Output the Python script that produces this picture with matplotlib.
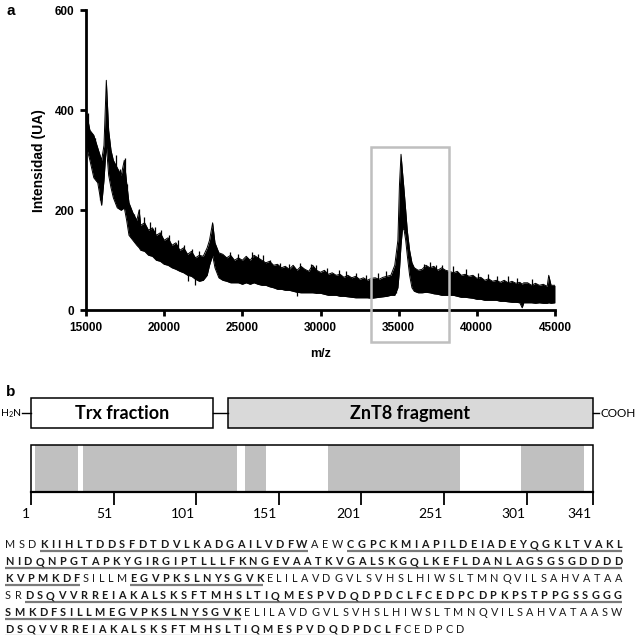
import matplotlib

matplotlib.use("Agg")
import matplotlib.pyplot as plt
from matplotlib.font_manager import FontProperties
from matplotlib.patches import Rectangle

plt.rcParams["font.family"] = ["Liberation Sans", "DejaVu Sans"]

mz = [15000, 15250, 15500, 15750, 16000, 16150, 16300, 16450, 16600, 16750,
      17000, 17250, 17450, 17600, 17750, 18000, 18250, 18400, 18500, 18750,
      19000, 19250, 19500, 19750, 20000, 20250, 20500, 20750, 21000, 21250,
      21500, 21750, 22000, 22250, 22500, 22750, 22900, 23100, 23250, 23500,
      23750, 24000, 24250, 24500, 24750, 25000, 25250, 25500, 25750, 26000,
      26250, 26500, 26750, 27000, 27250, 27500, 27750, 28000, 28250, 28500,
      28750, 29000, 29250, 29500, 29750, 30000, 30250, 30500, 30750, 31000,
      31250, 31500, 31750, 32000, 32250, 32500, 32750, 33000, 33250, 33500,
      33750, 34000, 34250, 34500, 34750, 34950, 35050, 35150, 35250, 35350,
      35450, 35550, 35700, 35850, 36000, 36250, 36500, 36750, 37000, 37250,
      37500, 37750, 38000, 38250, 38500, 38750, 39000, 39250, 39500, 39750,
      40000, 40250, 40500, 40750, 41000, 41250, 41500, 41750, 42000, 42250,
      42500, 42750, 42900, 43000, 43250, 43500, 43750, 44000, 44250, 44500,
      44600, 44750, 45000]
upper = [400, 360, 350, 325, 300, 330, 460, 360, 320, 300,
         285, 270, 300, 255, 215, 195, 180, 200, 170, 175,
         160, 165, 150, 155, 140, 145, 130, 135, 120, 125,
         112, 118, 105, 110, 108, 125, 140, 175, 135, 115,
         112, 105, 110, 100, 105, 100, 108, 100, 110, 105,
         100, 95, 98, 90, 92, 85, 88, 82, 90, 80,
         88, 82, 78, 90, 80, 76, 80, 72, 75, 70,
         72, 66, 70, 65, 68, 62, 65, 60, 64, 65,
         62, 66, 68, 70, 90, 140, 250, 312, 275, 240,
         200, 160, 120, 95, 85, 80, 82, 90, 85, 88,
         80, 85, 80, 78, 75, 78, 70, 72, 68, 70,
         64, 66, 60, 63, 58, 60, 56, 60, 55, 58,
         54, 56, 52, 55, 55, 50, 54, 50, 52, 48,
         70, 50, 50]
lower = [330, 300, 265, 255, 210, 260, 330, 270, 245, 225,
         205, 200, 205, 180, 150, 140, 130, 125, 120, 118,
         110, 108, 100, 98, 92, 90, 85, 82, 78, 75,
         70, 68, 62, 58, 60, 70, 90, 110, 85, 65,
         60, 58, 55, 55, 55, 52, 55, 52, 55, 52,
         50, 50, 47, 45, 42, 42, 40, 40, 38, 36,
         35, 35, 35, 35, 34, 34, 32, 30, 30, 30,
         28, 28, 27, 26, 25, 25, 25, 25, 24, 25,
         26, 27, 28, 30, 30, 45, 80, 130, 165, 160,
         140, 110, 70, 45, 38, 35, 35, 36, 35, 33,
         32, 30, 30, 30, 30, 28, 26, 26, 25, 24,
         22, 22, 20, 20, 20, 20, 18, 18, 17, 16,
         16, 15, 5, 15, 15, 15, 14, 15, 14, 14,
         15, 14, 15]
# single noise spikes sticking out of the band (m/z, from, to)
spike_mz = [15100, 15400, 15600, 15900, 16900, 17200, 17470, 17650, 18100, 18400,
            18700, 19100, 19400, 19800, 20300, 20900, 21300, 21500, 21800, 22000,
            22200, 24200, 24700, 25600, 26000, 26300, 26800, 27400, 28000, 28500,
            28700, 29400, 29700, 30400, 31200, 31600, 32300, 32900, 33700, 34200,
            34860, 36600, 37000, 37400, 37800, 38500, 39300, 40100, 40700, 41300,
            42000, 42600, 43500]
spike_lo = [340, 300, 290, 220, 240, 220, 230, 200, 150, 140,
            130, 120, 110, 105, 95, 85, 80, 58, 75, 50,
            65, 60, 58, 58, 55, 55, 50, 45, 42, 28,
            38, 36, 35, 33, 30, 28, 27, 26, 28, 30,
            35, 38, 38, 35, 33, 30, 28, 24, 22, 20,
            18, 17, 16]
spike_hi = [395, 352, 345, 300, 310, 282, 305, 252, 192, 202,
            186, 176, 166, 160, 150, 140, 130, 100, 122, 90,
            118, 117, 112, 116, 113, 110, 101, 95, 92, 60,
            95, 93, 91, 85, 80, 79, 75, 70, 75, 78,
            90, 92, 96, 90, 90, 88, 82, 75, 72, 68,
            68, 65, 62]
highlight_mz = (33200, 38250)
highlight_y = (-63, 327)

# --- panel b: fusion construct and peptide coverage of the sequence
domains = [("Trx fraction", 1, 111, "white"), ("ZnT8 fragment", 120, 341, "#d9d9d9")]
scale_ticks = [1, 51, 101, 151, 201, 251, 301, 341]
seq_lines = [
    [("MSD", False), ("KIIHLTDDSFDTDVLKADGAILVDFW", True), ("AEW", False),
     ("CGPCKMIAPILDEIADEYQGKLTVAKL", True)],
    [("NIDQNPGTAPKYGIRGIPTLLLFKNGEVAATKVGALSKGQLKEFLDANLAGSGSGDDDD", True)],
    [("KVPMKDF", True), ("SILLM", False), ("EGVPKSLNYSGVK", True),
     ("ELILAVDGVLSVHSLHIWSLTMNQVILSAHVATAA", False)],
    [("SR", False), ("DSQVVRREIAKALSKSFTMHSLTIQMESPVDQDPDCLFCEDPCDPKPSTPPGSSGGG", True)],
    [("SMKDFSILLMEGVPKSLNYSGVK", True), ("ELILAVDGVLSVHSLHIWSLTMNQVILSAHVATAASW", False)],
    [("DSQVVRREIAKALSKSFTMHSLTIQMESPVDQDPDCLF", True), ("CEDPCD", False)],
]

# covered residue ranges = runs of bold residues
covered = []
pos = 0
for line in seq_lines:
    for seg, bold in line:
        start = pos + 1
        pos += len(seg)
        if bold:
            if covered and covered[-1][1] == start - 1:
                covered[-1] = (covered[-1][0], pos)
            else:
                covered.append((start, pos))

plt.rcParams["mathtext.fontset"] = "custom"
plt.rcParams["mathtext.rm"] = "Lato"

fig = plt.figure(figsize=(6.38, 6.35), dpi=100)
W, H = 638, 635

# panel a
ax = fig.add_axes([86 / W, 1 - 310.3 / H, 469 / W, 300 / H])
ax.fill_between(mz, lower, upper, color="black", linewidth=0)
ax.plot(mz, upper, color="black", linewidth=0.7)
ax.plot(mz, lower, color="black", linewidth=0.7)
ax.vlines(spike_mz, spike_lo, spike_hi, color="black", linewidth=0.9)
ax.add_patch(Rectangle((highlight_mz[0], highlight_y[0]), highlight_mz[1] - highlight_mz[0],
                       highlight_y[1] - highlight_y[0], fill=False, edgecolor="#bfbfbf",
                       linewidth=1.8, clip_on=False, zorder=5))
ax.set_xlim(15000, 45000)
ax.set_ylim(0, 600)
ax.set_xticks(range(15000, 45001, 5000))
ax.set_yticks([0, 200, 400, 600])
for side in ["top", "right"]:
    ax.spines[side].set_visible(False)
for side in ["left", "bottom"]:
    ax.spines[side].set_linewidth(2)
ax.tick_params(width=2, length=4.5, labelsize=8.5, pad=4)
for lab in ax.get_xticklabels() + ax.get_yticklabels():
    lab.set_fontweight("bold")
ax.set_xlabel("m/z", fontsize=9, fontweight="bold", labelpad=10)
ax.set_ylabel("Intensidad (UA)", fontsize=10, fontweight="bold", labelpad=6)
fig.text(11 / W, 1 - 11 / H, "a", fontsize=11, fontweight="bold", ha="center", va="center")
fig.text(11 / W, 1 - 392 / H, "b", fontsize=11, fontweight="bold", ha="center", va="center")

# panel b: construct map, x in residues, y in pixels
axm = fig.add_axes([31 / W, 0, 561.7 / W, 255 / H])
axm.set_xlim(1, 341)
axm.set_ylim(635, 380)
axm.axis("off")
lato = ["Lato", "DejaVu Sans"]
box_top, box_h = 398.3, 30
for name, start, end, color in domains:
    axm.add_patch(Rectangle((start, box_top), end - start, box_h, facecolor=color,
                            edgecolor="black", linewidth=1.1, clip_on=False))
    axm.text((start + end) / 2, box_top + box_h / 2, name, family=lato, fontweight="bold",
             fontsize=13, ha="center", va="center")
mid = box_top + box_h / 2
axm.plot([domains[0][2], domains[1][1]], [mid, mid], color="black", linewidth=1, clip_on=False)
axm.plot([-4.6, 1], [mid, mid], color="black", linewidth=1, clip_on=False)
axm.plot([341, 345], [mid, mid], color="black", linewidth=1, clip_on=False)
axm.text(-4.8, mid, r"H$_\mathregular{2}$N", family=lato, fontsize=7.5, ha="right", va="center")
axm.text(345.5, mid, "COOH", family=lato, fontsize=8.5, ha="left", va="center")

bar_top, bar_bot = 445, 491.7
for start, end in covered:
    axm.add_patch(Rectangle((start - 0.5, bar_top), end - start + 1, bar_bot - bar_top,
                            facecolor="#c0c0c0", edgecolor="none", clip_on=False))
axm.add_patch(Rectangle((1, bar_top), 340, bar_bot - bar_top, fill=False,
                        edgecolor="black", linewidth=1.1, clip_on=False))
axm.plot([1, 341], [bar_bot, bar_bot], color="black", linewidth=1.6, clip_on=False)
axm.vlines(scale_ticks, bar_bot, 505, color="black", linewidth=1.3, clip_on=False)
for t in scale_ticks:
    axm.text(t - 0.8, 518, str(t), family=lato, fontsize=10, ha="right", va="baseline")

# sequence, letter-spaced and justified like the original
axs = fig.add_axes([0, 0, 1, 1])
axs.set_xlim(0, W)
axs.set_ylim(H, 0)
axs.axis("off")
renderer = fig.canvas.get_renderer()
fp_reg = FontProperties(family="Lato", size=7.8)
fp_bold = FontProperties(family="Lato", weight="bold", size=7.8)
x_left, x_right = 5, 622
baselines = [548.3, 565.2, 582.3, 599.3, 616.5, 632.8]


def widths_of(line):
    out = []
    for seg, bold in line:
        fp = fp_bold if bold else fp_reg
        for ch in seg:
            out.append(renderer.get_text_width_height_descent(ch, fp, ismath=False)[0])
    return out


gaps = []
for line in seq_lines[:-1]:
    w = widths_of(line)
    gaps.append((x_right - x_left - sum(w)) / (len(w) - 1))
mean_gap = sum(gaps) / len(gaps)

for i, line in enumerate(seq_lines):
    w = widths_of(line)
    gap = gaps[i] if i < len(gaps) else mean_gap
    x = x_left
    k = 0
    y = baselines[i]
    for seg, bold in line:
        fp = fp_bold if bold else fp_reg
        seg_start = x
        for ch in seg:
            axs.text(x, y, ch, fontproperties=fp, ha="left", va="baseline", color="#1a1a1a")
            seg_end = x + w[k]
            x += w[k] + gap
            k += 1
        if bold:
            axs.plot([seg_start, seg_end], [y + 2.8, y + 2.8], color="#7a7a7a",
                     linewidth=1.6, solid_capstyle="butt")

fig.savefig("out.png", dpi=100)
